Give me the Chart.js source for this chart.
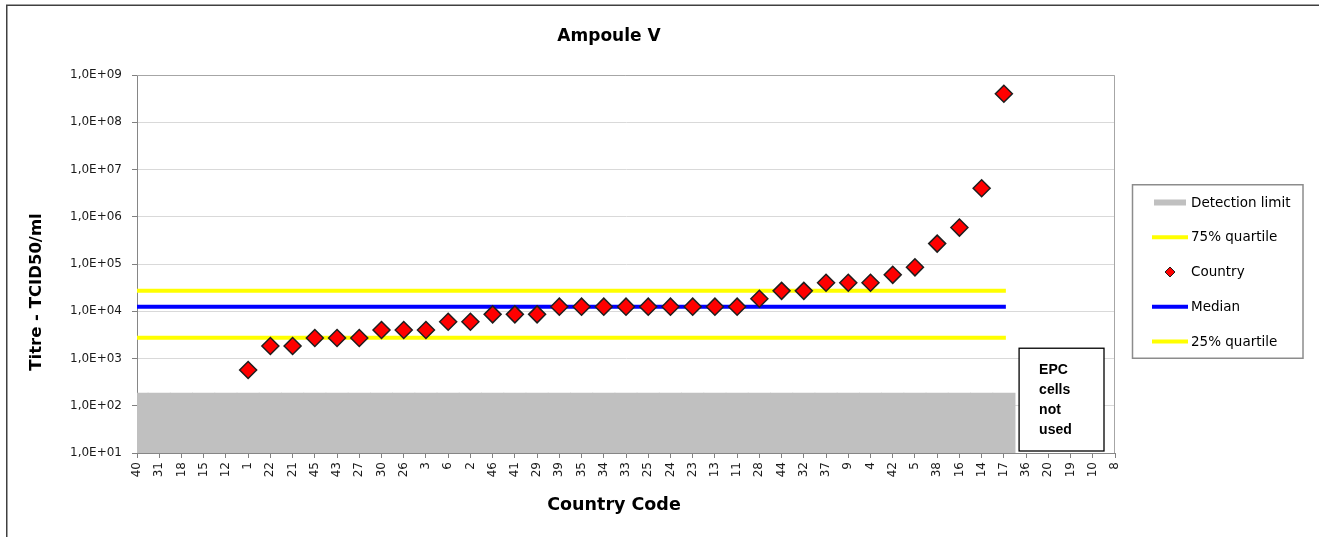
<!DOCTYPE html>
<html>
<head>
<meta charset="utf-8">
<title>Ampoule V</title>
<script src="https://cdn.jsdelivr.net/npm/chart.js@4/dist/chart.umd.min.js"></script>
<style>
  html, body { margin: 0; padding: 0; background: #ffffff; }
  canvas { display: block; }
</style>
</head>
<body>
<canvas id="chart" width="1319" height="537"></canvas>
<script>
// Country codes, in plotted order along the x axis
const countryCodes = ['40','31','18','15','12','1','22','21','45','43','27','30','26','3','6','2',
  '46','41','29','39','35','34','33','25','24','23','13','11','28','44','32','37','9','4','42','5',
  '38','16','14','17','36','20','19','10','8'];

// Titre (TCID50/ml) per country; null where no result was reported
const titres = [null, null, null, null, null, 570, 1840, 1840, 2720, 2720, 2720, 4000, 4000, 4000,
  6000, 6000, 8600, 8600, 8600, 12500, 12500, 12500, 12500, 12500, 12500, 12500, 12500, 12500,
  18400, 27000, 27000, 40000, 40000, 40000, 59000, 85000, 270000, 590000, 4000000, 400000000,
  null, null, null, null, null];

// Countries where EPC cells were not used
const epcNotUsed = ['36','20','19','10','8'];

// Reference levels
const detectionLimit = 185;
const quartile25 = 2750;
const medianTitre = 12500;
const quartile75 = 27000;

// Log axis ticks and their labels
const yTickValues = [1e1, 1e2, 1e3, 1e4, 1e5, 1e6, 1e7, 1e8, 1e9];
const yTickLabels = ['1,0E+01','1,0E+02','1,0E+03','1,0E+04','1,0E+05','1,0E+06','1,0E+07','1,0E+08','1,0E+09'];

const epcUsed = countryCodes.filter(c => !epcNotUsed.includes(c));
const firstUsed = epcUsed[0];
const lastUsed = epcUsed[epcUsed.length - 1];

function levelLine(value) {
  return [{ x: firstUsed, y: value }, { x: lastUsed, y: value }];
}

const FONT = 'DejaVu Sans';
Chart.defaults.font.family = FONT;
Chart.defaults.color = '#1a1a1a';

// Frame, titles, plot border, notice box and legend
const decorations = {
  id: 'decorations',
  beforeDraw(chart) {
    const ctx = chart.ctx;
    ctx.save();
    ctx.fillStyle = '#ffffff';
    ctx.fillRect(0, 0, chart.width, chart.height);
    ctx.strokeStyle = '#404040';
    ctx.lineWidth = 1.5;
    ctx.beginPath();
    ctx.moveTo(6.75, chart.height);
    ctx.lineTo(6.75, 5.25);
    ctx.lineTo(chart.width, 5.25);
    ctx.stroke();
    ctx.restore();
  },
  afterDatasetsDraw(chart) {
    const ctx = chart.ctx;
    const area = chart.chartArea;
    const x = chart.scales.x;
    const y = chart.scales.y;
    ctx.save();
    // top and right edges of the plot area
    ctx.strokeStyle = '#a6a6a6';
    ctx.lineWidth = 1;
    ctx.beginPath();
    ctx.moveTo(area.left, area.top + 0.5);
    ctx.lineTo(area.right - 0.5, area.top + 0.5);
    ctx.lineTo(area.right - 0.5, area.bottom);
    ctx.stroke();

    // "EPC cells not used" notice over the last countries
    const i0 = countryCodes.indexOf(epcNotUsed[0]);
    const i1 = countryCodes.indexOf(epcNotUsed[epcNotUsed.length - 1]);
    const bx0 = x.getPixelForValue(i0) - 7;
    const bx1 = x.getPixelForValue(i1) - 11;
    const by0 = y.getPixelForValue(1650);
    const by1 = area.bottom - 2;
    ctx.fillStyle = '#ffffff';
    ctx.fillRect(bx0, by0, bx1 - bx0, by1 - by0);
    ctx.strokeStyle = '#000000';
    ctx.lineWidth = 1.3;
    ctx.strokeRect(bx0, by0, bx1 - bx0, by1 - by0);
    ctx.fillStyle = '#000000';
    ctx.font = 'bold 14px "Liberation Sans"';
    ctx.textAlign = 'left';
    ctx.textBaseline = 'alphabetic';
    ['EPC', 'cells', 'not', 'used'].forEach((t, k) => {
      ctx.fillText(t, bx0 + 20, by0 + 26 + k * 19.8);
    });
    ctx.restore();
  },
  afterDraw(chart) {
    const ctx = chart.ctx;
    ctx.save();
    ctx.fillStyle = '#000000';
    // chart title
    ctx.font = 'bold 17px "' + FONT + '"';
    ctx.textAlign = 'center';
    ctx.textBaseline = 'alphabetic';
    ctx.fillText('Ampoule V', 609, 40.5);
    // x axis title
    ctx.font = 'bold 17.5px "' + FONT + '"';
    ctx.fillText('Country Code', 614, 510);
    // y axis title
    ctx.save();
    ctx.translate(40.5, 292);
    ctx.rotate(-Math.PI / 2);
    ctx.font = 'bold 16.5px "' + FONT + '"';
    ctx.fillText('Titre - TCID50/ml', 0, 0);
    ctx.restore();

    // legend
    const lx = 1132.5, ly = 184.75, lw = 170.5, lh = 173.5;
    ctx.strokeStyle = '#8c8c8c';
    ctx.lineWidth = 1.5;
    ctx.strokeRect(lx, ly, lw, lh);
    const order = ['Detection limit', '75% quartile', 'Country', 'Median', '25% quartile'];
    ctx.font = '13.5px "' + FONT + '"';
    ctx.textAlign = 'left';
    ctx.textBaseline = 'middle';
    order.forEach((label, k) => {
      const ds = chart.data.datasets.find(d => d.label === label);
      const cy = 202.5 + k * 34.75;
      if (ds.type === 'bar') {
        ctx.fillStyle = ds.backgroundColor;
        ctx.fillRect(1154, cy - 3, 32, 6);
      } else if (ds.showLine === false) {
        const r = 5;
        ctx.beginPath();
        ctx.moveTo(1170 - r, cy);
        ctx.lineTo(1170, cy - r);
        ctx.lineTo(1170 + r, cy);
        ctx.lineTo(1170, cy + r);
        ctx.closePath();
        ctx.fillStyle = ds.backgroundColor;
        ctx.fill();
        ctx.strokeStyle = ds.borderColor;
        ctx.lineWidth = 1;
        ctx.stroke();
      } else {
        ctx.strokeStyle = ds.borderColor;
        ctx.lineWidth = 4;
        ctx.beginPath();
        ctx.moveTo(1152, cy);
        ctx.lineTo(1188, cy);
        ctx.stroke();
      }
      ctx.fillStyle = '#000000';
      ctx.fillText(label, 1191, cy + 0.5);
    });
    ctx.restore();
  }
};

new Chart(document.getElementById('chart'), {
  type: 'line',
  data: {
    labels: countryCodes,
    datasets: [
      {
        type: 'line',
        label: 'Country',
        data: titres,
        showLine: false,
        pointStyle: 'rectRot',
        pointRadius: 8.5,
        pointHoverRadius: 8.5,
        backgroundColor: '#ff0000',
        borderColor: '#1e1e1e',
        borderWidth: 1.5,
        order: 0
      },
      {
        type: 'line',
        label: 'Median',
        data: levelLine(medianTitre),
        borderColor: '#0000ff',
        backgroundColor: '#0000ff',
        borderWidth: 4,
        borderCapStyle: 'square',
        pointRadius: 0,
        clip: 0,
        order: 1
      },
      {
        type: 'line',
        label: '75% quartile',
        data: levelLine(quartile75),
        borderColor: '#ffff00',
        backgroundColor: '#ffff00',
        borderWidth: 4,
        borderCapStyle: 'square',
        pointRadius: 0,
        clip: 0,
        order: 2
      },
      {
        type: 'line',
        label: '25% quartile',
        data: levelLine(quartile25),
        borderColor: '#ffff00',
        backgroundColor: '#ffff00',
        borderWidth: 4,
        borderCapStyle: 'square',
        pointRadius: 0,
        clip: 0,
        order: 3
      },
      {
        type: 'bar',
        label: 'Detection limit',
        data: countryCodes.map(c => epcNotUsed.includes(c) ? null : [yTickValues[0], detectionLimit]),
        backgroundColor: '#c0c0c0',
        borderWidth: 0,
        barPercentage: 1,
        categoryPercentage: 1,
        inflateAmount: 0.5,
        clip: 0,
        order: 4
      }
    ]
  },
  options: {
    responsive: false,
    devicePixelRatio: 1,
    animation: false,
    events: [],
    layout: { padding: { left: 0, right: 204, top: 75, bottom: 0 } },
    plugins: {
      legend: { display: false },
      title: { display: false },
      tooltip: { enabled: false }
    },
    scales: {
      x: {
        type: 'category',
        offset: false,
        grid: {
          offset: false,
          display: true,
          drawOnChartArea: false,
          drawTicks: true,
          tickLength: 5,
          color: '#808080'
        },
        border: { display: true, color: '#868686', width: 1 },
        ticks: {
          autoSkip: false,
          minRotation: 90,
          maxRotation: 90,
          padding: 4,
          color: '#1a1a1a',
          font: { size: 12, family: FONT }
        },
        afterFit(scale) { scale.height = 537 - 453; }
      },
      y: {
        type: 'logarithmic',
        min: yTickValues[0],
        max: yTickValues[yTickValues.length - 1],
        grid: {
          color: '#d9d9d9',
          lineWidth: 1,
          drawTicks: true,
          tickLength: 5,
          tickColor: '#808080'
        },
        border: { display: true, color: '#868686', width: 1 },
        ticks: {
          padding: 10,
          color: '#1a1a1a',
          font: { size: 12, family: FONT },
          callback(value) {
            const k = yTickValues.indexOf(value);
            return k >= 0 ? yTickLabels[k] : '';
          }
        },
        afterBuildTicks(scale) {
          scale.ticks = yTickValues.map(v => ({ value: v }));
        },
        afterFit(scale) { scale.width = 137; }
      }
    }
  },
  plugins: [decorations]
});
</script>
</body>
</html>
